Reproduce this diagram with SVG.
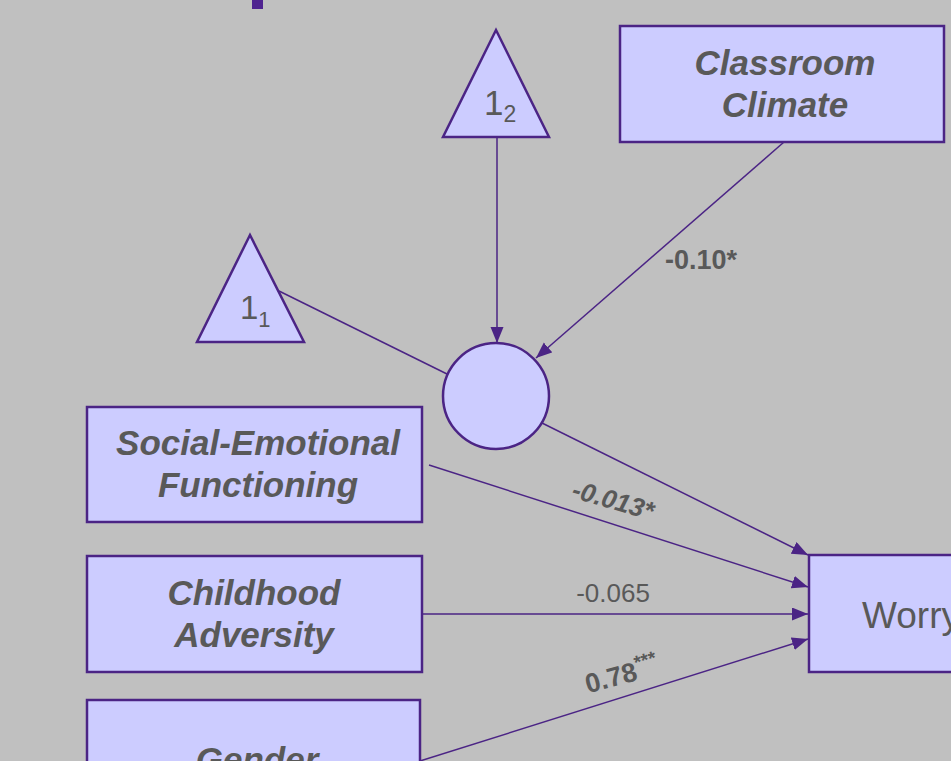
<svg xmlns="http://www.w3.org/2000/svg" width="951" height="761" viewBox="0 0 951 761">
<defs>
<marker id="arr" markerUnits="userSpaceOnUse" markerWidth="18" markerHeight="14" refX="16" refY="6.5" orient="auto">
<path d="M0,0 L16,6.5 L0,13 z" fill="#4b2485"/>
</marker>
<style>
.node{fill:#ccccff;stroke:#4b2485;stroke-width:2.5}
.lbl{font-family:"Liberation Sans",Arial,sans-serif;font-size:35px;font-weight:bold;font-style:italic;fill:#595959;text-anchor:middle}
.plain{font-family:"Liberation Sans",Arial,sans-serif;fill:#595959}
.edge{stroke:#4b2485;stroke-width:1.5;fill:none}
.coef{font-family:"Liberation Sans",Arial,sans-serif;fill:#595959;text-anchor:middle}
</style>
</defs>
<rect width="951" height="761" fill="#c0c0c0"/>
<rect id="title-fragment" x="252" y="0" width="11" height="9" fill="#4f2390"/>
<g id="connectors">
<line class="edge" x1="497" y1="138" x2="497" y2="343" marker-end="url(#arr)"/>
<line class="edge" x1="784" y1="142" x2="536" y2="358" marker-end="url(#arr)"/>
<line class="edge" x1="279" y1="291" x2="447" y2="374"/>
<line class="edge" x1="542" y1="423" x2="808" y2="555" marker-end="url(#arr)"/>
<line class="edge" x1="429" y1="465" x2="808" y2="587" marker-end="url(#arr)"/>
<line class="edge" x1="422" y1="614" x2="808" y2="614" marker-end="url(#arr)"/>
<line class="edge" x1="420" y1="761" x2="808" y2="639" marker-end="url(#arr)"/>
<text class="coef" x="701" y="269" font-size="27" font-weight="bold">-0.10*</text>
<text class="coef" x="613" y="509" font-size="26" font-weight="bold" font-style="italic" transform="rotate(16 613 501)">-0.013*</text>
<text class="coef" x="613" y="602" font-size="26">-0.065</text>
<text class="coef" x="622" y="684" font-size="27" font-weight="bold" transform="rotate(-15 622 676)">0.78<tspan font-size="19" dy="-11">***</tspan></text>
</g>
<g id="one2">
<polygon class="node" points="496,30 549,137 443,137"/>
<text class="plain" x="484" y="115" font-size="35">1<tspan font-size="23" dy="7">2</tspan></text>
</g>
<g id="one1">
<polygon class="node" points="250,235 304,342 197,342"/>
<text class="plain" x="240" y="319" font-size="33">1<tspan font-size="22" dy="8">1</tspan></text>
</g>
<g id="classroom">
<rect class="node" x="620" y="26" width="324" height="116"/>
<text class="lbl" x="785" y="75">Classroom</text>
<text class="lbl" x="785" y="117">Climate</text>
</g>
<g id="latent">
<circle class="node" cx="496" cy="396" r="53"/>
</g>
<g id="sef">
<rect class="node" x="87" y="407" width="335" height="115"/>
<text class="lbl" x="258" y="455">Social-Emotional</text>
<text class="lbl" x="258" y="497">Functioning</text>
</g>
<g id="adversity">
<rect class="node" x="87" y="556" width="335" height="116"/>
<text class="lbl" x="254" y="605">Childhood</text>
<text class="lbl" x="254" y="647">Adversity</text>
</g>
<g id="gender">
<rect class="node" x="87" y="700" width="333" height="80"/>
<text class="lbl" x="257" y="772">Gender</text>
</g>
<g id="worry">
<rect class="node" x="809" y="555" width="160" height="117"/>
<text class="plain" x="862" y="628" font-size="37">Worry</text>
</g>
</svg>
